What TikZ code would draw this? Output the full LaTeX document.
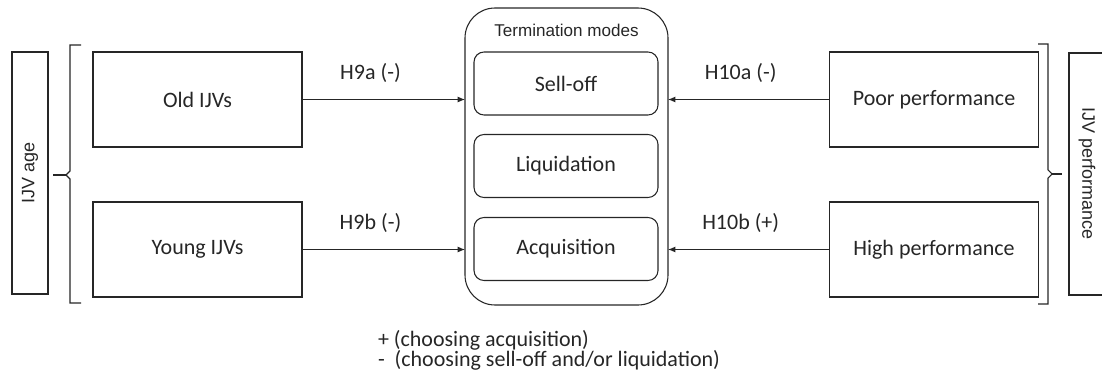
\documentclass[tikz,border=0pt]{standalone}
\usepackage{fontspec}
\setmainfont{Carlito}
\newfontfamily\arialfont{Liberation Sans}
\usetikzlibrary{arrows.meta}
\begin{document}
\begin{tikzpicture}[x=0.75pt,y=-0.75pt,
  line width=0.8pt, draw=black!85,
  every node/.style={inner sep=0pt, outer sep=0pt, text=black!85},
  body/.style={font=\fontsize{16.5}{20}\selectfont},
  sidebox/.style={draw, body, minimum width=209*0.75pt, minimum height=95*0.75pt},
  modebox/.style={draw, body, rounded corners=10*0.75pt, minimum width=184*0.75pt, minimum height=63*0.75pt},
  labelbox/.style={draw, minimum width=242*0.75pt, minimum height=36*0.75pt, rotate=90, font=\arialfont\fontsize{13.5}{16}\selectfont},
  hyp/.style={body},
  link/.style={-{Latex[length=5.5pt,width=4.5pt]}},
  note/.style={anchor=west, body}
]
\useasboundingbox (0,0) rectangle (1102,378);

% termination modes container
\node[draw, rounded corners=30*0.75pt, minimum width=203*0.75pt, minimum height=297*0.75pt] (modes) at (566.5,156.5) {};
\node[font=\arialfont\fontsize{12.8}{15}\selectfont] (modestitle) at (566.5,30) {Termination modes};
\node[modebox] (selloff) at (566,83.5) {Sell-off};
\node[modebox] (liquid) at (566,166) {Liquidation};
\node[modebox] (acq) at (566,249) {Acquisition};

% antecedents
\node[sidebox] (old) at (197.5,99.5) {Old IJVs};
\node[sidebox] (young) at (197.5,249.5) {Young IJVs};
\node[sidebox] (poor) at (934,99.5) {Poor performance};
\node[sidebox] (high) at (934,249.5) {High performance};

% group labels
\node[labelbox] (age) at (30,173) {IJV age};
\node[labelbox, rotate=180] (perf) at (1087,174) {IJV performance};

% braces
\coordinate (agetip) at (53,175);
\coordinate (perftip) at (1062,174);
\draw (81,45) -- (70,45) -- (70,171) -- (66,175) -- (70,179) -- (70,303) -- (81,303);
\draw (66,175) -- (agetip);
\draw (1038,44) -- (1048,44) -- (1048,170) -- (1052,174) -- (1048,178) -- (1048,304) -- (1038,304);
\draw (1052,174) -- (perftip);

% hypotheses
\draw[link] (old.east) -- (old.east -| modes.west) node[hyp, pos=0.42, above=13pt] (h9a) {H9a (-)};
\draw[link] (young.east) -- (young.east -| modes.west) node[hyp, pos=0.42, above=13pt] (h9b) {H9b (-)};
\draw[link] (poor.west) -- (poor.west -| modes.east) node[hyp, pos=0.55, above=13pt] (h10a) {H10a (-)};
\draw[link] (high.west) -- (high.west -| modes.east) node[hyp, pos=0.55, above=13pt] (h10b) {H10b (+)};

% sign legend
\node[note] (plus) at (378,340) {+ (choosing acquisition)};
\node[note] (minus) at (378,360) {-\hspace{7.5pt}(choosing sell-off and/or liquidation)};
\end{tikzpicture}
\end{document}
